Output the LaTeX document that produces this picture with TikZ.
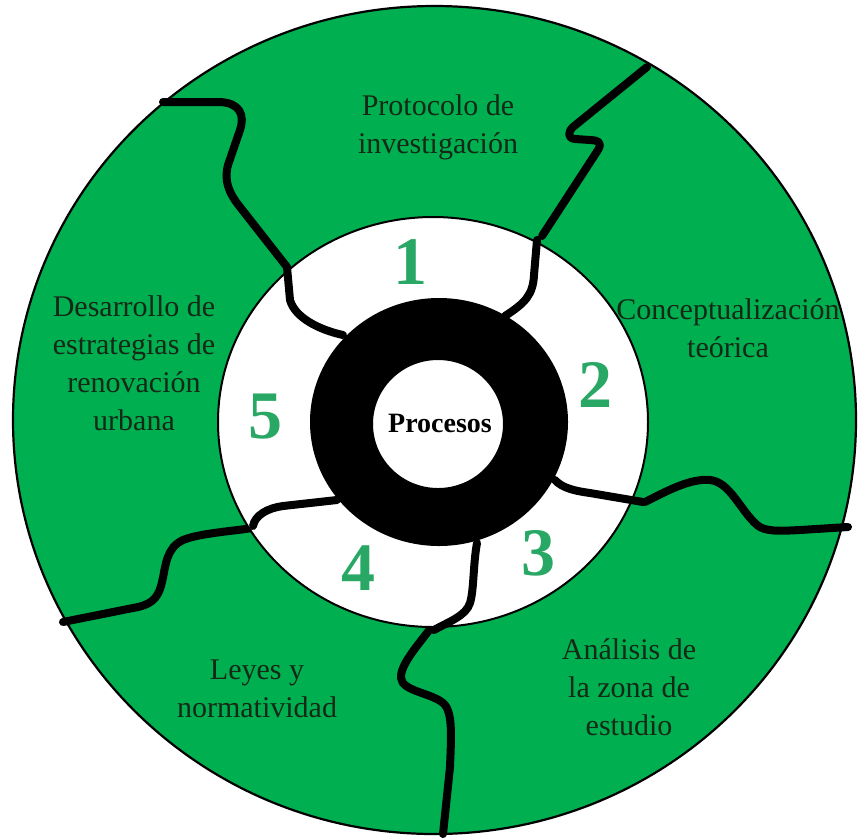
\documentclass[tikz,border=0pt]{standalone}
\usepackage{fontspec}
\setmainfont{Liberation Serif}
\usepackage{tikz}
\usetikzlibrary{positioning}
\definecolor{ringgreen}{RGB}{0,176,80}
\definecolor{numgreen}{RGB}{40,168,100}
\definecolor{lbltext}{RGB}{22,40,22}
\tikzstyle{lbl}=[align=center, text=lbltext, inner sep=0pt, font=\fontsize{30}{38}\selectfont]
\tikzstyle{num}=[text=numgreen, inner sep=0pt, font=\fontsize{68}{68}\selectfont\bfseries]
\tikzstyle{sep}=[line width=8pt, line cap=round, line join=round]

\begin{document}
\begin{tikzpicture}[x=1pt, y=-1pt]
\useasboundingbox (0,0) rectangle (858,839);
\fill[ringgreen] (434.5,420) ellipse [x radius=421.5pt, y radius=414pt];

\draw[sep] (542,236) -- (598,150) .. controls (603,142) and (597,140) .. (590,140) -- (575,139) .. controls (567,138) and (568,132) .. (573,127) -- (647,67);
\draw[sep] (645,502) .. controls (665,492) and (690,478) .. (710,480) .. controls (730,482) and (740,510) .. (757,525) .. controls (765,532) and (780,531) .. (800,530) -- (848,527);
\draw[sep] (430,629) .. controls (418,645) and (400,665) .. (401,678) .. controls (402,692) and (435,693) .. (445,705) .. controls (453,715) and (451,740) .. (450,767) -- (443,834);
\draw[sep] (252,528) .. controls (235,531) and (200,533) .. (183,540) .. controls (166,548) and (166,565) .. (162,582) .. controls (158,600) and (150,605) .. (133,608) -- (63,622);
\draw[sep] (287,267) -- (240,207) .. controls (228,192) and (224,180) .. (228,165) -- (240,130) .. controls (245,115) and (240,103) .. (220,102) -- (163,102);

\draw[fill=white, line width=2pt] (433,422) ellipse [x radius=215pt, y radius=205pt];
\fill[black, even odd rule] (439,422) ellipse [x radius=129pt, y radius=124pt] (438,424) ellipse [x radius=65pt, y radius=64pt];

\draw[sep] (505,316) .. controls (525,303) and (533,295) .. (534,275) -- (537,240);
\draw[sep] (555,480) .. controls (562,488) and (575,491) .. (590,493) -- (643,502);
\draw[sep] (477,543) .. controls (473,565) and (474,590) .. (470,603) .. controls (466,616) and (448,622) .. (434,630);
\draw[sep] (337,500) -- (283,506) .. controls (268,508) and (255,515) .. (253,526);
\draw[sep] (343,335) .. controls (320,330) and (295,318) .. (290,300) -- (287,267);

\draw[line width=2.2pt] (434.5,420) ellipse [x radius=421.5pt, y radius=414pt];

\node[inner sep=0pt, font=\fontsize{28}{28}\selectfont\bfseries] (proc) at (440,423) {Procesos};

\node[num] (n1) at (410,262) {1};
\node[num] (n2) at (595,385) {2};
\node[num] (n3) at (538,553) {3};
\node[num] (n4) at (358,568) {4};
\node[num] (n5) at (265,417) {5};

\node[lbl] (proto) at (438,127) {Protocolo de\\investigación};
\node[lbl] (conc) at (728,328) {Conceptualización\\teórica};
\node[lbl] (anal) at (629,687) {Análisis de\\la zona de\\estudio};
\node[lbl] (leyes) at (257,689) {Leyes y\\normatividad};
\node[lbl] (desa) at (134,363) {Desarrollo de\\estrategias de\\renovación\\urbana};
\end{tikzpicture}
\end{document}
